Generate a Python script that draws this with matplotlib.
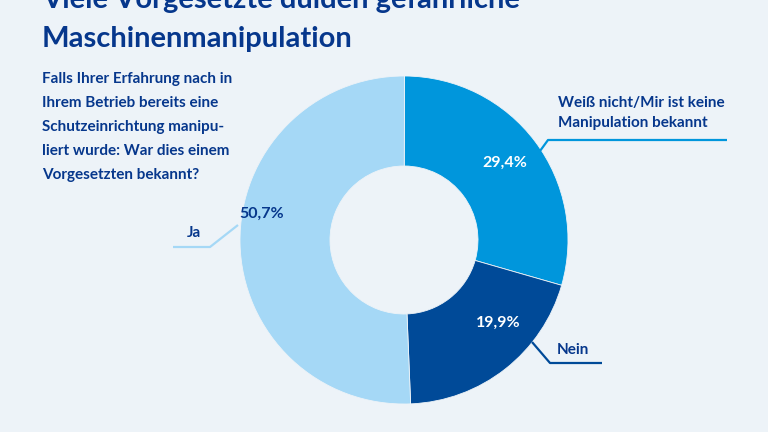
import matplotlib
matplotlib.use("Agg")
import matplotlib.pyplot as plt

categories = ["Weiß nicht/Mir ist keine\nManipulation bekannt", "Nein", "Ja"]
values = [29.4, 19.9, 50.7]
colors = ["#0096dc", "#004a98", "#a5d8f6"]
pct_colors = ["white", "white", "#06378c"]

title = "Viele Vorgesetzte dulden gefährliche\nMaschinenmanipulation"
subtitle = ("Falls Ihrer Erfahrung nach in\nIhrem Betrieb bereits eine\n"
            "Schutzeinrichtung manipu-\nliert wurde: War dies einem\nVorgesetzten bekannt?")

BG = "#edf3f8"
NAVY = "#06378c"
FONT = ["Lato", "DejaVu Sans"]

W, H = 768, 432
fig = plt.figure(figsize=(W / 100, H / 100), dpi=100, facecolor=BG)
ax = fig.add_axes([0, 0, 1, 1])
ax.set_facecolor(BG)

def Y(py):
    return H - py

cx, cy, R = 404, Y(240), 164
ax.pie(values, colors=colors, startangle=89.8, counterclock=False,
       center=(cx, cy), radius=R, frame=True,
       wedgeprops=dict(width=R - 74, edgecolor=BG, linewidth=0.6))
ax.set_xlim(0, W)
ax.set_ylim(0, H)
ax.set_aspect("equal")
ax.axis("off")

# title
ax.text(42, Y(8), title.split("\n")[0], fontsize=21, fontweight="bold", color=NAVY,
        family=FONT, ha="left", va="baseline")
ax.text(42, Y(47), title.split("\n")[1], fontsize=21, fontweight="bold", color=NAVY,
        family=FONT, ha="left", va="baseline")

# subtitle
for i, line in enumerate(subtitle.split("\n")):
    ax.text(42, Y(79 + 24 * i), line, fontsize=11, fontweight="bold", color=NAVY,
            family=FONT, ha="left", va="center")

# percentage labels
pct_pos = [(505, 163), (498, 323), (262, 214)]
for v, (px, py), c in zip(values, pct_pos, pct_colors):
    ax.text(px, Y(py), f"{v:.1f}%".replace(".", ","), fontsize=11.5, fontweight="bold",
            color=c, family=FONT, ha="center", va="center")

# category labels with leader lines
label_pos = [(558, 103), (557, 350), (187, 233)]
leaders = [
    [(540, 151), (548, 140), (727, 140)],
    [(532, 342), (550, 363), (602, 363)],
    [(238, 225), (210, 247), (173, 247)],
]
for cat, (lx, ly), pts, col in zip(categories, label_pos, leaders, colors):
    lines = cat.split("\n")
    for j, ln in enumerate(lines):
        ax.text(lx, Y(ly + 20 * j), ln, fontsize=11, fontweight="bold", color=NAVY,
                family=FONT, ha="left", va="center")
    xs = [p[0] for p in pts]
    ys = [Y(p[1]) for p in pts]
    ax.plot(xs, ys, color=col, linewidth=1.6, solid_capstyle="butt", zorder=5)

fig.savefig("out.png", dpi=100, facecolor=BG)
